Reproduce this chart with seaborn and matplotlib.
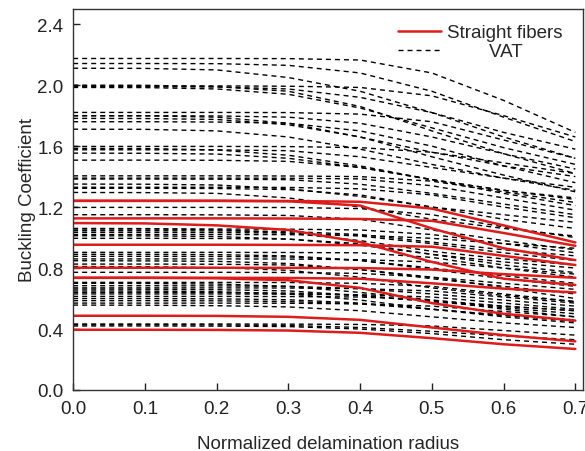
import matplotlib
matplotlib.use("Agg")
import matplotlib.pyplot as plt
from matplotlib.lines import Line2D
import pandas as pd
import seaborn as sns

# normalized delamination radius (sample points)
radius = [0.0, 0.1, 0.2, 0.3, 0.4, 0.5, 0.6, 0.7]

# buckling coefficient, straight fibre laminates
straight = [
    [1.241, 1.241, 1.241, 1.240, 1.235, 1.190, 1.080, 0.968],
    [1.241, 1.241, 1.241, 1.238, 1.210, 1.060, 0.930, 0.852],
    [1.126, 1.126, 1.126, 1.125, 1.122, 1.110, 1.030, 0.946],
    [1.095, 1.093, 1.080, 1.050, 0.970, 0.840, 0.730, 0.689],
    [0.953, 0.953, 0.953, 0.952, 0.950, 0.940, 0.880, 0.820],
    [0.802, 0.802, 0.802, 0.801, 0.800, 0.790, 0.760, 0.736],
    [0.736, 0.736, 0.736, 0.735, 0.730, 0.700, 0.665, 0.640],
    [0.736, 0.736, 0.733, 0.720, 0.670, 0.570, 0.500, 0.455],
    [0.487, 0.487, 0.486, 0.480, 0.460, 0.410, 0.360, 0.319],
    [0.395, 0.395, 0.394, 0.390, 0.375, 0.340, 0.300, 0.269],
]

# buckling coefficient, VAT laminates
vat = [
    [2.175, 2.175, 2.175, 2.174, 2.165, 2.080, 1.900, 1.690],
    [2.142, 2.142, 2.141, 2.130, 2.080, 1.960, 1.790, 1.630],
    [2.111, 2.110, 2.100, 2.050, 1.960, 1.820, 1.660, 1.520],
    [1.995, 1.995, 1.995, 1.993, 1.985, 1.930, 1.800, 1.660],
    [1.990, 1.990, 1.988, 1.975, 1.920, 1.820, 1.690, 1.580],
    [1.985, 1.984, 1.975, 1.940, 1.850, 1.720, 1.590, 1.480],
    [2.000, 1.999, 1.990, 1.960, 1.860, 1.700, 1.550, 1.420],
    [1.821, 1.821, 1.821, 1.820, 1.810, 1.760, 1.640, 1.520],
    [1.799, 1.799, 1.798, 1.790, 1.750, 1.660, 1.550, 1.450],
    [1.800, 1.799, 1.790, 1.750, 1.660, 1.530, 1.410, 1.300],
    [1.782, 1.781, 1.775, 1.740, 1.660, 1.560, 1.470, 1.400],
    [1.760, 1.760, 1.758, 1.750, 1.700, 1.600, 1.470, 1.360],
    [1.711, 1.710, 1.700, 1.660, 1.580, 1.480, 1.390, 1.310],
    [1.598, 1.598, 1.598, 1.597, 1.590, 1.560, 1.490, 1.420],
    [1.585, 1.584, 1.575, 1.540, 1.470, 1.380, 1.310, 1.260],
    [1.576, 1.576, 1.575, 1.570, 1.530, 1.460, 1.390, 1.330],
    [1.554, 1.553, 1.548, 1.520, 1.460, 1.380, 1.310, 1.250],
    [1.508, 1.508, 1.507, 1.500, 1.460, 1.380, 1.290, 1.210],
    [1.405, 1.405, 1.405, 1.404, 1.400, 1.370, 1.300, 1.230],
    [1.390, 1.390, 1.390, 1.389, 1.385, 1.340, 1.260, 1.180],
    [1.384, 1.384, 1.383, 1.380, 1.350, 1.290, 1.220, 1.150],
    [1.351, 1.350, 1.345, 1.320, 1.270, 1.200, 1.150, 1.100],
    [1.330, 1.330, 1.330, 1.329, 1.320, 1.280, 1.200, 1.130],
    [1.323, 1.323, 1.322, 1.315, 1.280, 1.200, 1.120, 1.060],
    [1.296, 1.295, 1.290, 1.260, 1.200, 1.120, 1.060, 1.010],
    [1.198, 1.198, 1.198, 1.197, 1.190, 1.150, 1.070, 1.000],
    [1.150, 1.150, 1.149, 1.145, 1.120, 1.050, 0.980, 0.920],
    [1.060, 1.059, 1.052, 1.030, 0.980, 0.910, 0.860, 0.820],
    [1.056, 1.056, 1.056, 1.055, 1.050, 1.020, 0.960, 0.900],
    [1.045, 1.045, 1.044, 1.040, 1.020, 0.970, 0.920, 0.880],
    [1.034, 1.034, 1.033, 1.030, 1.010, 0.960, 0.900, 0.850],
    [1.020, 1.020, 1.020, 1.019, 1.015, 0.995, 0.960, 0.930],
    [1.012, 1.011, 1.007, 0.990, 0.950, 0.890, 0.840, 0.800],
    [0.995, 0.995, 0.994, 0.990, 0.960, 0.890, 0.820, 0.770],
    [0.903, 0.903, 0.903, 0.902, 0.900, 0.870, 0.800, 0.740],
    [0.890, 0.890, 0.888, 0.880, 0.850, 0.790, 0.730, 0.680],
    [0.877, 0.877, 0.876, 0.873, 0.850, 0.800, 0.750, 0.700],
    [0.860, 0.860, 0.860, 0.859, 0.855, 0.840, 0.800, 0.760],
    [0.848, 0.847, 0.844, 0.830, 0.790, 0.740, 0.700, 0.660],
    [0.826, 0.826, 0.825, 0.820, 0.790, 0.730, 0.680, 0.630],
    [0.810, 0.809, 0.803, 0.785, 0.740, 0.670, 0.620, 0.580],
    [0.772, 0.772, 0.772, 0.771, 0.765, 0.740, 0.670, 0.600],
    [0.706, 0.706, 0.706, 0.705, 0.700, 0.680, 0.630, 0.580],
    [0.700, 0.699, 0.695, 0.680, 0.640, 0.590, 0.550, 0.520],
    [0.684, 0.684, 0.683, 0.680, 0.665, 0.630, 0.590, 0.550],
    [0.670, 0.670, 0.670, 0.669, 0.665, 0.650, 0.610, 0.570],
    [0.662, 0.661, 0.658, 0.650, 0.620, 0.580, 0.550, 0.520],
    [0.650, 0.649, 0.645, 0.630, 0.590, 0.530, 0.490, 0.460],
    [0.640, 0.640, 0.639, 0.636, 0.620, 0.580, 0.540, 0.500],
    [0.630, 0.630, 0.630, 0.629, 0.625, 0.610, 0.570, 0.530],
    [0.614, 0.614, 0.614, 0.613, 0.610, 0.590, 0.530, 0.480],
    [0.600, 0.600, 0.598, 0.592, 0.570, 0.530, 0.490, 0.450],
    [0.586, 0.586, 0.585, 0.580, 0.565, 0.530, 0.480, 0.440],
    [0.570, 0.570, 0.570, 0.569, 0.565, 0.550, 0.515, 0.480],
    [0.557, 0.556, 0.553, 0.545, 0.520, 0.480, 0.440, 0.410],
    [0.433, 0.433, 0.433, 0.432, 0.430, 0.420, 0.390, 0.360],
    [0.428, 0.428, 0.427, 0.423, 0.410, 0.385, 0.355, 0.330],
    [0.420, 0.420, 0.419, 0.416, 0.400, 0.370, 0.330, 0.300],
]

RED = "#dd1c1c"
DASH = (0, (3.6, 2.9))


def to_long(curves):
    rows = []
    for i, ys in enumerate(curves):
        for x, y in zip(radius, ys):
            rows.append({"curve": i, "x": x, "y": y})
    return pd.DataFrame(rows)


vat_df = to_long(vat)
sf_df = to_long(straight)

sns.set_style("ticks")
plt.rcParams["font.family"] = ["Liberation Sans", "DejaVu Sans"]

fig = plt.figure(figsize=(5.85, 4.52), dpi=100)
ax = fig.add_axes([0.125, 0.135, 0.872, 0.843])

sns.lineplot(data=vat_df, x="x", y="y", units="curve", estimator=None,
             color="black", lw=1.0, linestyle=DASH, ax=ax)
sns.lineplot(data=sf_df, x="x", y="y", units="curve", estimator=None,
             color=RED, lw=1.8, ax=ax)

ax.set_xlim(0, 0.711)
ax.set_ylim(0, 2.5)
ax.set_xticks([0.0, 0.1, 0.2, 0.3, 0.4, 0.5, 0.6, 0.7])
ax.set_yticks([0.0, 0.4, 0.8, 1.2, 1.6, 2.0, 2.4])
ax.xaxis.set_major_formatter(plt.FormatStrFormatter("%.1f"))
ax.yaxis.set_major_formatter(plt.FormatStrFormatter("%.1f"))
ax.tick_params(direction="in", length=5, width=1, labelsize=13.5,
               colors="#222222", pad=7)
for sp in ax.spines.values():
    sp.set_visible(True)
    sp.set_color("#333333")
    sp.set_linewidth(1.0)

ax.set_xlabel("Normalized delamination radius", fontsize=13.5, labelpad=13)
ax.set_ylabel("Buckling Coefficient", fontsize=13.5, labelpad=1)

handles = [Line2D([], [], color=RED, lw=1.8),
           Line2D([], [], color="black", lw=1.0, linestyle=DASH)]
ax.legend(handles, ["Straight fibers", "        VAT"], loc="upper right",
          bbox_to_anchor=(0.985, 0.995), frameon=False, fontsize=13.5,
          handlelength=2.3, borderaxespad=0.3, labelspacing=0.1,
          handletextpad=0.3)

fig.savefig("out.png", dpi=100)
